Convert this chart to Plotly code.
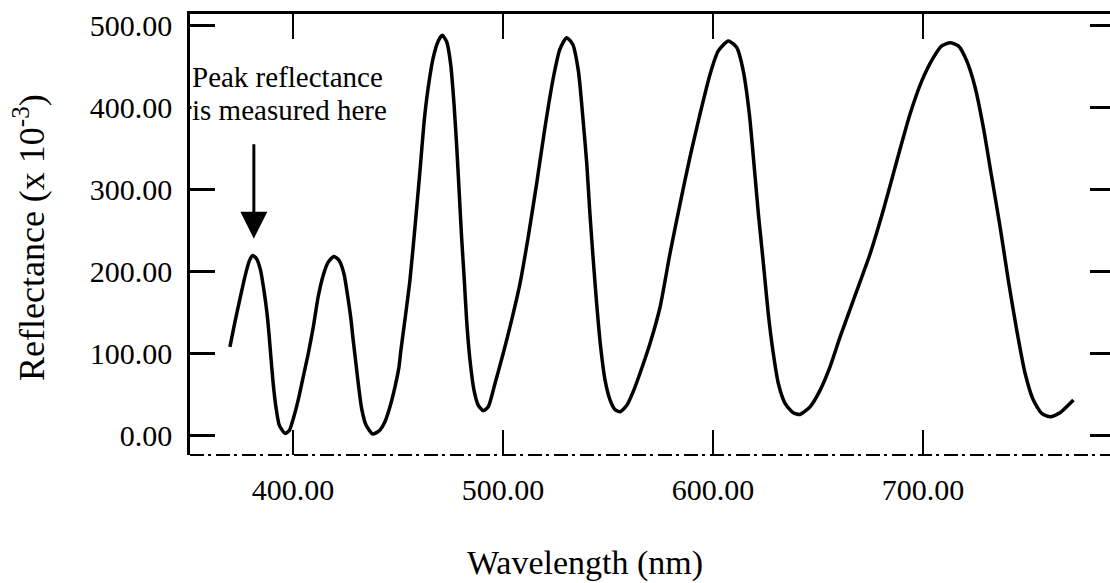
import plotly.graph_objects as go

# Reflectance spectrum of a thin film (values in units of 1e-3)
wavelength_nm = [
    370.0, 372.4, 374.8, 377.1, 379.2, 380.8, 382.7, 384.6, 386.2, 387.5,
    388.6, 389.5, 390.6, 391.9, 393.5, 396.2, 398.2, 400.2, 402.5, 404.9,
    407.3, 409.7, 412.0, 414.4, 416.8, 419.5, 422.0, 424.3, 425.9, 427.5,
    428.7, 430.0, 431.3, 432.7, 434.8, 438.0, 441.1, 443.8, 446.2, 448.6,
    450.5, 451.4, 453.3, 455.7, 458.1, 460.5, 462.5, 464.4, 466.8, 469.2,
    471.1, 473.2, 475.1, 476.7, 478.0, 479.2, 480.3, 481.6,
    482.7, 484.3, 486.2, 488.2, 490.6, 493.0, 496.2, 500.1, 504.1, 508.1,
    512.0, 516.0, 520.0, 524.0, 527.1, 530.3, 533.2, 535.9, 537.9, 539.9,
    541.4, 543.0, 544.6, 546.5, 548.6, 551.0, 553.3, 555.7, 558.9, 562.0,
    565.2, 570.0, 574.8, 579.5, 584.3, 589.0, 593.8, 598.6, 602.5, 607.3,
    611.3, 614.4, 617.3, 619.5, 621.6, 624.0, 626.3, 628.7, 631.1, 634.3,
    638.2, 641.4, 646.2, 651.0, 655.7, 660.5, 666.8, 674.8, 681.1, 687.5,
    693.8, 699.4, 704.9, 708.9, 712.9, 716.8, 720.8, 724.8, 728.7, 732.7,
    736.7, 740.6, 744.6, 748.6, 752.5, 756.5, 760.5, 765.2, 771.6,
]
reflectance = [
    107.7, 138.2, 166.7, 193.1, 212.6, 219.5, 215.5, 201.2, 176.8, 152.4,
    124.0, 95.5, 63.0, 34.5, 12.2, 2.0, 5.2, 20.3, 42.7, 71.1,
    99.6, 132.1, 168.7, 195.1, 211.3, 218.3, 213.4, 197.2, 172.8, 144.3,
    115.9, 87.4, 58.9, 32.6, 12.2, 1.2, 5.2, 16.2, 34.5, 58.9,
    83.3, 103.7, 140.2, 189.0, 254.0, 323.2, 384.1, 424.8, 461.3, 481.7,
    488.5, 480.7, 453.3, 404.5, 351.6, 294.7, 241.8, 189.0,
    140.2, 91.5, 54.9, 36.6, 29.7, 34.5, 63.0, 99.6, 140.2, 185.0,
    241.8, 306.9, 376.0, 437.0, 471.6, 485.7, 477.7, 445.1, 392.3, 331.3,
    270.4, 213.4, 160.6, 107.7, 67.1, 42.7, 31.3, 28.4, 36.0, 53.0,
    75.2, 111.8, 156.5, 221.6, 282.6, 339.4, 392.3, 441.1, 469.5, 481.7,
    473.6, 445.1, 392.3, 331.3, 270.4, 209.4, 148.4, 99.6, 63.0, 38.7,
    27.2, 25.2, 34.5, 54.9, 83.3, 119.9, 164.6, 221.6, 275.0, 335.0,
    392.3, 432.9, 461.3, 475.6, 479.6, 475.6, 457.3, 424.8, 376.0, 315.0,
    254.0, 189.0, 128.0, 75.2, 42.7, 26.5, 22.3, 27.2, 42.7,
]

x_ticks = [400, 500, 600, 700]
x_tick_labels = ["400.00", "500.00", "600.00", "700.00"]
y_ticks = [0, 100, 200, 300, 400, 500]
y_tick_labels = ["0.00", "100.00", "200.00", "300.00", "400.00", "500.00"]

x_range = [351.0, 789.0]
y_range = [-24.4, 514.6]

FONT = "Liberation Serif"

fig = go.Figure()
fig.add_trace(go.Scatter(
    x=wavelength_nm, y=reflectance, mode="lines",
    line=dict(color="black", width=3.5, shape="spline", smoothing=0.6),
    showlegend=False, hoverinfo="skip",
))
# empty trace so the top / right tick axes get drawn
fig.add_trace(go.Scatter(x=[], y=[], xaxis="x2", yaxis="y2",
                         showlegend=False, hoverinfo="skip"))

fig.update_layout(
    width=1110, height=583,
    margin=dict(l=190, r=0, t=14, b=128),
    paper_bgcolor="white", plot_bgcolor="white",
    font=dict(family=FONT, color="black", size=30),
    xaxis=dict(
        range=x_range, tickvals=x_ticks, ticktext=x_tick_labels,
        ticks="inside", ticklen=25, tickwidth=2, tickcolor="black",
        showline=False, showgrid=False, zeroline=False,
        ticklabelstandoff=14, tickfont=dict(size=30),
    ),
    xaxis2=dict(
        range=x_range, tickvals=x_ticks, overlaying="x", side="top", anchor="y2",
        ticks="inside", ticklen=25, tickwidth=2, tickcolor="black",
        showline=True, linewidth=2.5, linecolor="black",
        showgrid=False, zeroline=False, showticklabels=False,
    ),
    yaxis=dict(
        range=y_range, tickvals=y_ticks, ticktext=y_tick_labels,
        ticks="inside", ticklen=25, tickwidth=2.5, tickcolor="black",
        showline=True, linewidth=2.5, linecolor="black",
        showgrid=False, zeroline=False,
        ticklabelstandoff=9, tickfont=dict(size=30),
    ),
    yaxis2=dict(
        range=y_range, tickvals=y_ticks, overlaying="y", side="right", anchor="x2",
        ticks="inside", ticklen=20, tickwidth=2.5, tickcolor="black",
        showline=False, showgrid=False, zeroline=False, showticklabels=False,
    ),
)

# bottom frame line, printed as a broken rule
fig.add_shape(type="line", xref="paper", yref="paper", x0=0, x1=1, y0=0, y1=0,
              line=dict(color="black", width=1.8, dash="14px,4px,3px,5px"))

# axis titles
fig.add_annotation(text="Wavelength (nm)", xref="paper", yref="paper",
                   x=(585 - 190) / 920, y=-(563 - 455) / 441, borderpad=0,
                   xanchor="center", yanchor="middle", showarrow=False,
                   font=dict(size=34))
fig.add_annotation(text="Reflectance (x 10<sup>-3</sup>)", xref="paper", yref="paper",
                   x=-(190 - 29) / 920, y=(455 - 238) / 441, textangle=-90,
                   xanchor="center", yanchor="middle", showarrow=False,
                   font=dict(size=36))

# callout pointing at the first reflectance peak (second line first so the
# first line is drawn over its white box)
fig.add_annotation(text="is measured here", x=351.6, y=397.5, borderpad=0,
                   xanchor="left", yanchor="middle", showarrow=False,
                   bgcolor="white", font=dict(size=29))
fig.add_annotation(text="Peak reflectance", x=351.6, y=438, borderpad=0,
                   xanchor="left", yanchor="middle", showarrow=False,
                   font=dict(size=29))
fig.add_annotation(x=381.4, y=240, ax=0, ay=-96, text="", showarrow=True,
                   arrowhead=2, arrowsize=1.8, arrowwidth=3, arrowcolor="black")

fig.write_html("out.html")
